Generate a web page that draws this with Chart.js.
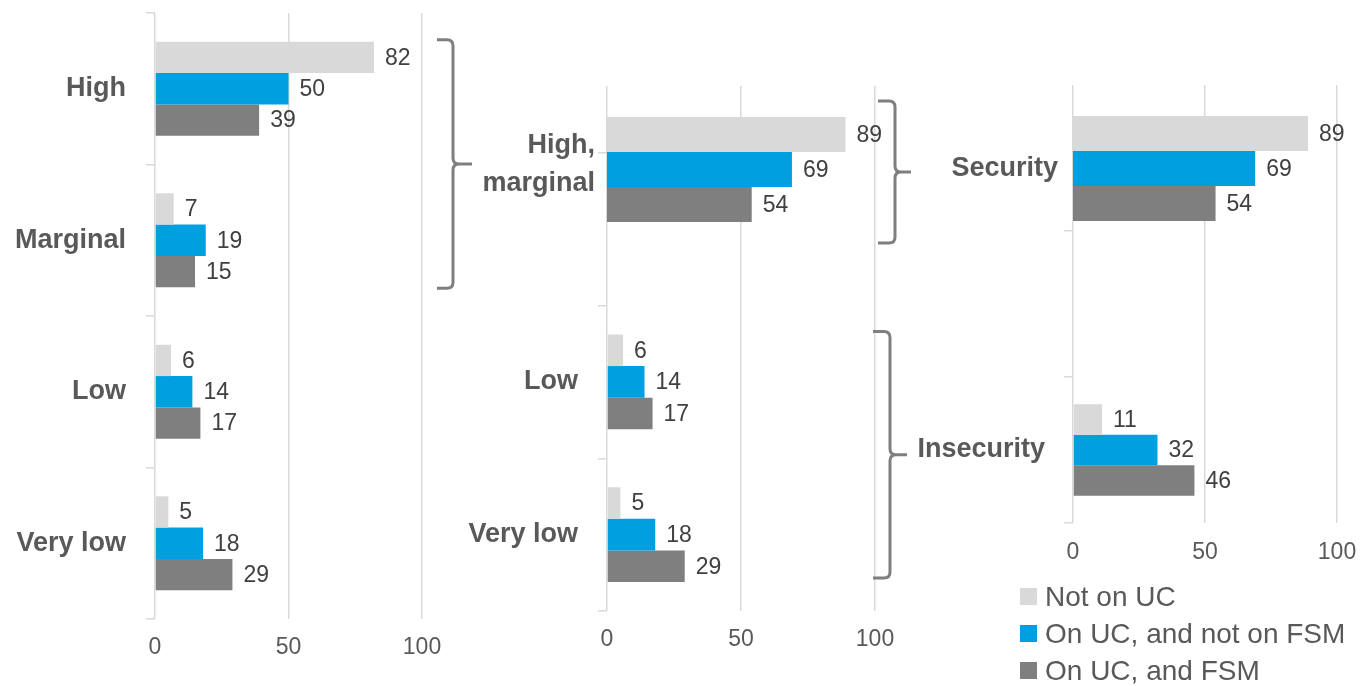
<!DOCTYPE html>
<html>
<head>
<meta charset="utf-8">
<title>Food security by Universal Credit and free school meals status</title>
<script src="https://cdn.jsdelivr.net/npm/chart.js@4.4.1/dist/chart.umd.min.js"></script>
<style>
  html, body { margin: 0; padding: 0; background: #ffffff; }
  body { width: 1371px; height: 686px; position: relative; overflow: hidden;
         font-family: "Liberation Sans", Arial, sans-serif; }
  canvas { position: absolute; }
  #legend { position: absolute; left: 1020px; top: 578px; }
  #legend .row { display: flex; align-items: center; height: 37px; }
  #legend .swatch { width: 17px; height: 17px; margin-right: 8px; }
  #legend .text { font-size: 28px; color: #595959; line-height: 37px; white-space: nowrap; }
</style>
</head>
<body>
<canvas id="levels" width="480" height="686" style="left:0px;top:0px"></canvas>
<canvas id="combinedLower" width="480" height="686" style="left:440px;top:0px"></canvas>
<canvas id="combinedUpper" width="480" height="300" style="left:440px;top:0px"></canvas>
<canvas id="insecurity" width="471" height="686" style="left:900px;top:0px"></canvas>
<canvas id="security" width="471" height="300" style="left:900px;top:0px"></canvas>
<div id="legend"></div>

<script>
// ---- Data -----------------------------------------------------------------
const seriesNames = ["Not on UC", "On UC, and not on FSM", "On UC, and FSM"];
const axisTicks = [0, 50, 100];

// Four food security levels
const levelLabels = ["High", "Marginal", "Low", "Very low"];
const levelNotOnUC = [82, 7, 6, 5];
const levelUCNotFSM = [50, 19, 14, 18];
const levelUCFSM = [39, 15, 17, 29];

// High and marginal combined
const combinedTopLabels = ["High, marginal"];
const combinedTopNotOnUC = [89];
const combinedTopUCNotFSM = [69];
const combinedTopUCFSM = [54];

const combinedLowLabels = ["Low", "Very low"];
const combinedLowNotOnUC = [6, 5];
const combinedLowUCNotFSM = [14, 18];
const combinedLowUCFSM = [17, 29];

// Security vs insecurity
const securityLabels = ["Security"];
const securityNotOnUC = [89];
const securityUCNotFSM = [69];
const securityUCFSM = [54];

const insecurityLabels = ["Insecurity"];
const insecurityNotOnUC = [11];
const insecurityUCNotFSM = [32];
const insecurityUCFSM = [46];

// ---- Styling --------------------------------------------------------------
const FONT = '"Liberation Sans", Arial, sans-serif';
const GRID = '#d9d9d9';
const AXIS_TEXT = '#595959';
const VALUE_TEXT = '#404040';
const PALETTE = ['#d9d9d9', '#009fdf', '#7f7f7f'];

// Restrict drawing to the part of the canvas below a given y
const clipTop = {
  id: 'clipTop',
  beforeDraw(chart, args, opts) {
    if (opts.y == null) return;
    const c = chart.ctx;
    c.save();
    c.beginPath();
    c.rect(0, opts.y, chart.width, chart.height - opts.y);
    c.clip();
  },
  afterDraw(chart, args, opts) {
    if (opts.y == null) return;
    chart.ctx.restore();
  }
};

// Value labels just past the end of each bar
const valueLabels = {
  id: 'valueLabels',
  afterDatasetsDraw(chart, args, opts) {
    const c = chart.ctx;
    c.save();
    c.font = opts.size + 'px ' + FONT;
    c.fillStyle = opts.color;
    c.textAlign = 'left';
    c.textBaseline = 'middle';
    chart.data.datasets.forEach((ds, i) => {
      chart.getDatasetMeta(i).data.forEach((bar, j) => {
        const v = ds.data[j];
        if (v == null) return;
        c.fillText(String(v), bar.x + opts.gap, bar.y + 1);
      });
    });
    c.restore();
  }
};

// Curly braces grouping a run of categories
const braces = {
  id: 'braces',
  afterDraw(chart, args, opts) {
    const c = chart.ctx;
    (opts.items || []).forEach(b => {
      let top = Infinity, bottom = -Infinity;
      chart.data.datasets.forEach((ds, i) => {
        chart.getDatasetMeta(i).data.forEach((bar, j) => {
          if (j < b.from || j > b.to || ds.data[j] == null) return;
          top = Math.min(top, bar.y - bar.height / 2);
          bottom = Math.max(bottom, bar.y + bar.height / 2);
        });
      });
      top -= b.extendTop;
      bottom += b.extendBottom;
      const mid = (top + bottom) / 2;
      const right = chart.chartArea.right;
      const x0 = right + b.start, x1 = right + b.stem, tip = right + b.tip;
      const r = 6;
      c.save();
      c.strokeStyle = '#7f7f7f';
      c.lineWidth = 3;
      c.beginPath();
      c.moveTo(x0, top);
      c.lineTo(x1 - r, top);
      c.quadraticCurveTo(x1, top, x1, top + r);
      c.lineTo(x1, mid - r);
      c.quadraticCurveTo(x1, mid, x1 + r, mid);
      c.lineTo(tip, mid);
      c.moveTo(x1 + r, mid);
      c.quadraticCurveTo(x1, mid, x1, mid + r);
      c.lineTo(x1, bottom - r);
      c.quadraticCurveTo(x1, bottom, x1 - r, bottom);
      c.lineTo(x0, bottom);
      c.stroke();
      c.restore();
    });
  }
};

function splitLabel(label) {
  const k = label.indexOf(', ');
  return k < 0 ? label : [label.slice(0, k + 1), label.slice(k + 2)];
}

function barPanel(id, o) {
  const datasets = seriesNames.map((name, k) => ({
    label: name,
    data: o.series[k],
    backgroundColor: PALETTE[k],
    borderWidth: 0,
    categoryPercentage: o.catPct,
    barPercentage: 1
  }));
  return new Chart(document.getElementById(id), {
    type: 'bar',
    data: { labels: o.labels, datasets },
    plugins: [clipTop, valueLabels, braces],
    options: {
      indexAxis: 'y',
      responsive: false,
      animation: false,
      devicePixelRatio: 1,
      events: [],
      layout: { padding: o.padding },
      plugins: {
        legend: { display: false },
        tooltip: { enabled: false },
        clipTop: { y: o.clipY },
        valueLabels: { size: 23, color: VALUE_TEXT, gap: 11 },
        braces: { items: o.braces || [] }
      },
      scales: {
        x: {
          min: 0, max: 100,
          display: o.showX,
          afterBuildTicks: s => { s.ticks = axisTicks.map(v => ({ value: v })); },
          afterFit: s => { s.height = o.xHeight; s.paddingLeft = 0; s.paddingRight = 0; },
          grid: { color: GRID, lineWidth: 1.5, drawTicks: false },
          border: { display: false },
          ticks: { color: AXIS_TEXT, font: { family: FONT, size: 23 }, padding: o.xPad || 15,
                   maxRotation: 0, autoSkip: false }
        },
        y: {
          afterFit: s => { s.width = o.yWidth; s.paddingTop = 0; s.paddingBottom = 0; },
          grid: {
            display: o.yTicks,
            drawOnChartArea: false,
            drawTicks: o.yTicks,
            tickLength: 9,
            lineWidth: 1.5,
            color: GRID,
            tickColor: ctx => (o.hideTopTick && ctx.index === 0) ? 'rgba(0,0,0,0)' : GRID
          },
          border: { display: false },
          ticks: {
            color: AXIS_TEXT,
            font: { family: FONT, size: 27, weight: 'bold', lineHeight: 1.4 },
            padding: o.yPad,
            labelOffset: o.labelOffset || 0,
            autoSkip: false,
            callback: function (value) { return splitLabel(this.getLabelForValue(value)); }
          }
        }
      }
    }
  });
}

// Panel 1: the four levels
barPanel('levels', {
  labels: levelLabels,
  series: [levelNotOnUC, levelUCNotFSM, levelUCFSM],
  padding: { left: 0, top: 13, right: 58, bottom: 0 },
  yWidth: 155, xHeight: 67, catPct: 0.62, yPad: 20, yTicks: true, showX: true,
  braces: [{ from: 0, to: 1, extendTop: 2, extendBottom: 1, start: 15, stem: 31, tip: 50 }]
});

// Panel 2: lower levels on the shared four-row grid
barPanel('combinedLower', {
  labels: ['', ''].concat(combinedLowLabels),
  series: [
    [null, null].concat(combinedLowNotOnUC),
    [null, null].concat(combinedLowUCNotFSM),
    [null, null].concat(combinedLowUCFSM)
  ],
  padding: { left: 0, top: 0, right: 45, bottom: 0 },
  yWidth: 167, xHeight: 75, catPct: 0.62, yPad: 20, yTicks: true, showX: true, clipY: 86,
  braces: [{ from: 2, to: 3, extendTop: 3, extendBottom: -4, start: -2, stem: 15, tip: 32 }]
});

// Panel 2: high and marginal combined
barPanel('combinedUpper', {
  labels: combinedTopLabels,
  series: [combinedTopNotOnUC, combinedTopUCNotFSM, combinedTopUCFSM],
  padding: { left: 0, top: 86, right: 45, bottom: 47 },
  yWidth: 167, xHeight: 0, catPct: 0.63, yPad: 12, yTicks: false, showX: false, labelOffset: -5,
  braces: [{ from: 0, to: 0, extendTop: 16, extendBottom: 21, start: 3, stem: 20, tip: 36 }]
});

// Panel 3: insecurity on the three-row grid
const insecurityChart = barPanel('insecurity', {
  labels: ['', ''].concat(insecurityLabels),
  series: [
    [null, null].concat(insecurityNotOnUC),
    [null, null].concat(insecurityUCNotFSM),
    [null, null].concat(insecurityUCFSM)
  ],
  padding: { left: 0, top: 85, right: 34, bottom: 0 },
  yWidth: 173, xHeight: 163, catPct: 0.627, yPad: 19, yTicks: true, showX: true,
  hideTopTick: true, xPad: 16
});

// Panel 3: security
barPanel('security', {
  labels: securityLabels,
  series: [securityNotOnUC, securityUCNotFSM, securityUCFSM],
  padding: { left: 0, top: 85, right: 34, bottom: 48 },
  yWidth: 173, xHeight: 0, catPct: 0.63, yPad: 15, yTicks: false, showX: false
});

// Legend built from the chart's own legend items
(function buildLegend(chart) {
  const items = Chart.defaults.plugins.legend.labels.generateLabels(chart);
  const box = document.getElementById('legend');
  items.forEach(item => {
    const row = document.createElement('div');
    row.className = 'row';
    const sw = document.createElement('span');
    sw.className = 'swatch';
    sw.style.background = item.fillStyle;
    const tx = document.createElement('span');
    tx.className = 'text';
    tx.textContent = item.text;
    row.appendChild(sw);
    row.appendChild(tx);
    box.appendChild(row);
  });
})(insecurityChart);
</script>
</body>
</html>
